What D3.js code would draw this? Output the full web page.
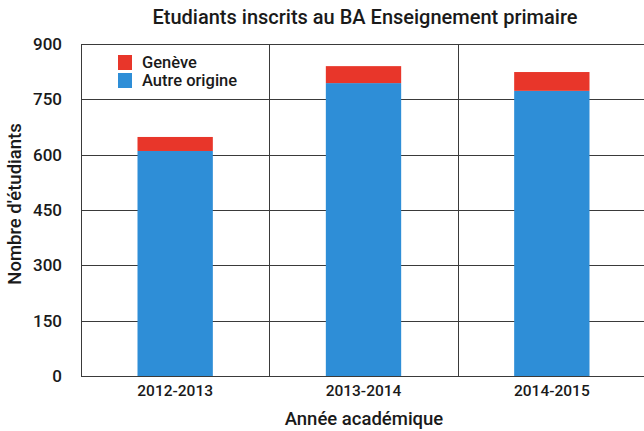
<!DOCTYPE html>
<html>
<head>
<meta charset="utf-8">
<script src="https://cdn.jsdelivr.net/npm/d3@7"></script>
<style>
  body { margin: 0; background: #fff; }
  text { font-family: Roboto, "Liberation Sans", Arial, sans-serif; font-weight: 500; fill: #1a1a1a; }
</style>
</head>
<body>
<svg id="chart"></svg>
<script>
// data
const years = ["2012-2013", "2013-2014", "2014-2015"]
const autreOrigine = [610, 794, 773]
const geneve = [38, 46, 51]
const yTicks = [0, 150, 300, 450, 600, 750, 900]
const seriesNames = ["Genève", "Autre origine"]

const width = 644, height = 431
const margin = { top: 44, right: -2, bottom: 55, left: 81 }
const innerW = width - margin.left - margin.right
const innerH = height - margin.top - margin.bottom

const svg = d3.select("#chart").attr("width", width).attr("height", height)

const rows = years.map((y, i) => ({ year: y, autre: autreOrigine[i], geneve: geneve[i] }))
const stacked = d3.stack().keys(["autre", "geneve"])(rows)

const color = d3.scaleOrdinal()
    .domain(["geneve", "autre"])
    .range(["#e8362a", "#2e8ed7"])

const x = d3.scaleBand().domain(years).range([0, innerW]).padding(0)
const barW = x.bandwidth() * 0.4
const y = d3.scaleLinear().domain([0, 900]).range([innerH, 0])

const g = svg.append("g").attr("transform", `translate(${margin.left},${margin.top})`)

// horizontal grid
g.append("g")
    .selectAll("line")
    .data(yTicks)
    .join("line")
        .attr("x1", 0).attr("x2", innerW)
        .attr("y1", d => Math.round(y(d)) + 0.5).attr("y2", d => Math.round(y(d)) + 0.5)
        .attr("stroke", "#3a3a3a").attr("stroke-width", 1)

// vertical grid (category separators)
g.append("g")
    .selectAll("line")
    .data(years.concat(["end"]))
    .join("line")
        .attr("x1", (d, i) => Math.round(i * x.step()) + 0.5)
        .attr("x2", (d, i) => Math.round(i * x.step()) + 0.5)
        .attr("y1", 0).attr("y2", innerH)
        .attr("stroke", "#3a3a3a").attr("stroke-width", 1)

// bars
g.append("g")
    .selectAll("g")
    .data(stacked)
    .join("g")
        .attr("fill", d => color(d.key))
        .selectAll("rect")
        .data(d => d)
        .join("rect")
            .attr("x", d => x(d.data.year) + (x.bandwidth() - barW) / 2)
            .attr("width", barW)
            .attr("y", d => y(d[1]))
            .attr("height", d => y(d[0]) - y(d[1]))

// axes
const yAxis = d3.axisLeft(y).tickValues(yTicks).tickSize(0).tickPadding(19)
g.append("g").call(yAxis)
    .call(a => a.select(".domain").remove())
    .selectAll("text")
        .style("font-size", "17px").style("font-family", "Roboto").style("font-weight", "500")
        .attr("fill", "#1a1a1a")

const xAxis = d3.axisBottom(x).tickSize(0).tickPadding(9)
g.append("g").attr("transform", `translate(0,${innerH})`).call(xAxis)
    .call(a => a.select(".domain").remove())
    .selectAll("text")
        .style("font-size", "15.5px").style("font-family", "Roboto").style("font-weight", "500")
        .attr("fill", "#1a1a1a")

// titles
svg.append("text")
    .attr("x", 365).attr("y", 24)
    .attr("text-anchor", "middle")
    .style("font-size", "20px")
    .text("Etudiants inscrits au BA Enseignement primaire")

svg.append("text")
    .attr("x", 364).attr("y", 425)
    .attr("text-anchor", "middle")
    .style("font-size", "18.5px")
    .text("Année académique")

svg.append("text")
    .attr("transform", "translate(21,204) rotate(-90)")
    .attr("text-anchor", "middle")
    .style("font-size", "18.5px")
    .text("Nombre d'étudiants")

// legend
const legend = svg.append("g").attr("transform", "translate(118,55)")
const legendKeys = ["geneve", "autre"]
legend.selectAll("rect")
    .data(legendKeys)
    .join("rect")
        .attr("x", 0).attr("y", (d, i) => i * 18)
        .attr("width", 14).attr("height", 15)
        .attr("fill", d => color(d))
legend.selectAll("text")
    .data(seriesNames)
    .join("text")
        .attr("x", 24).attr("y", (d, i) => i * 18 + 13)
        .style("font-size", "16.5px")
        .text(d => d)
</script>
</body>
</html>
